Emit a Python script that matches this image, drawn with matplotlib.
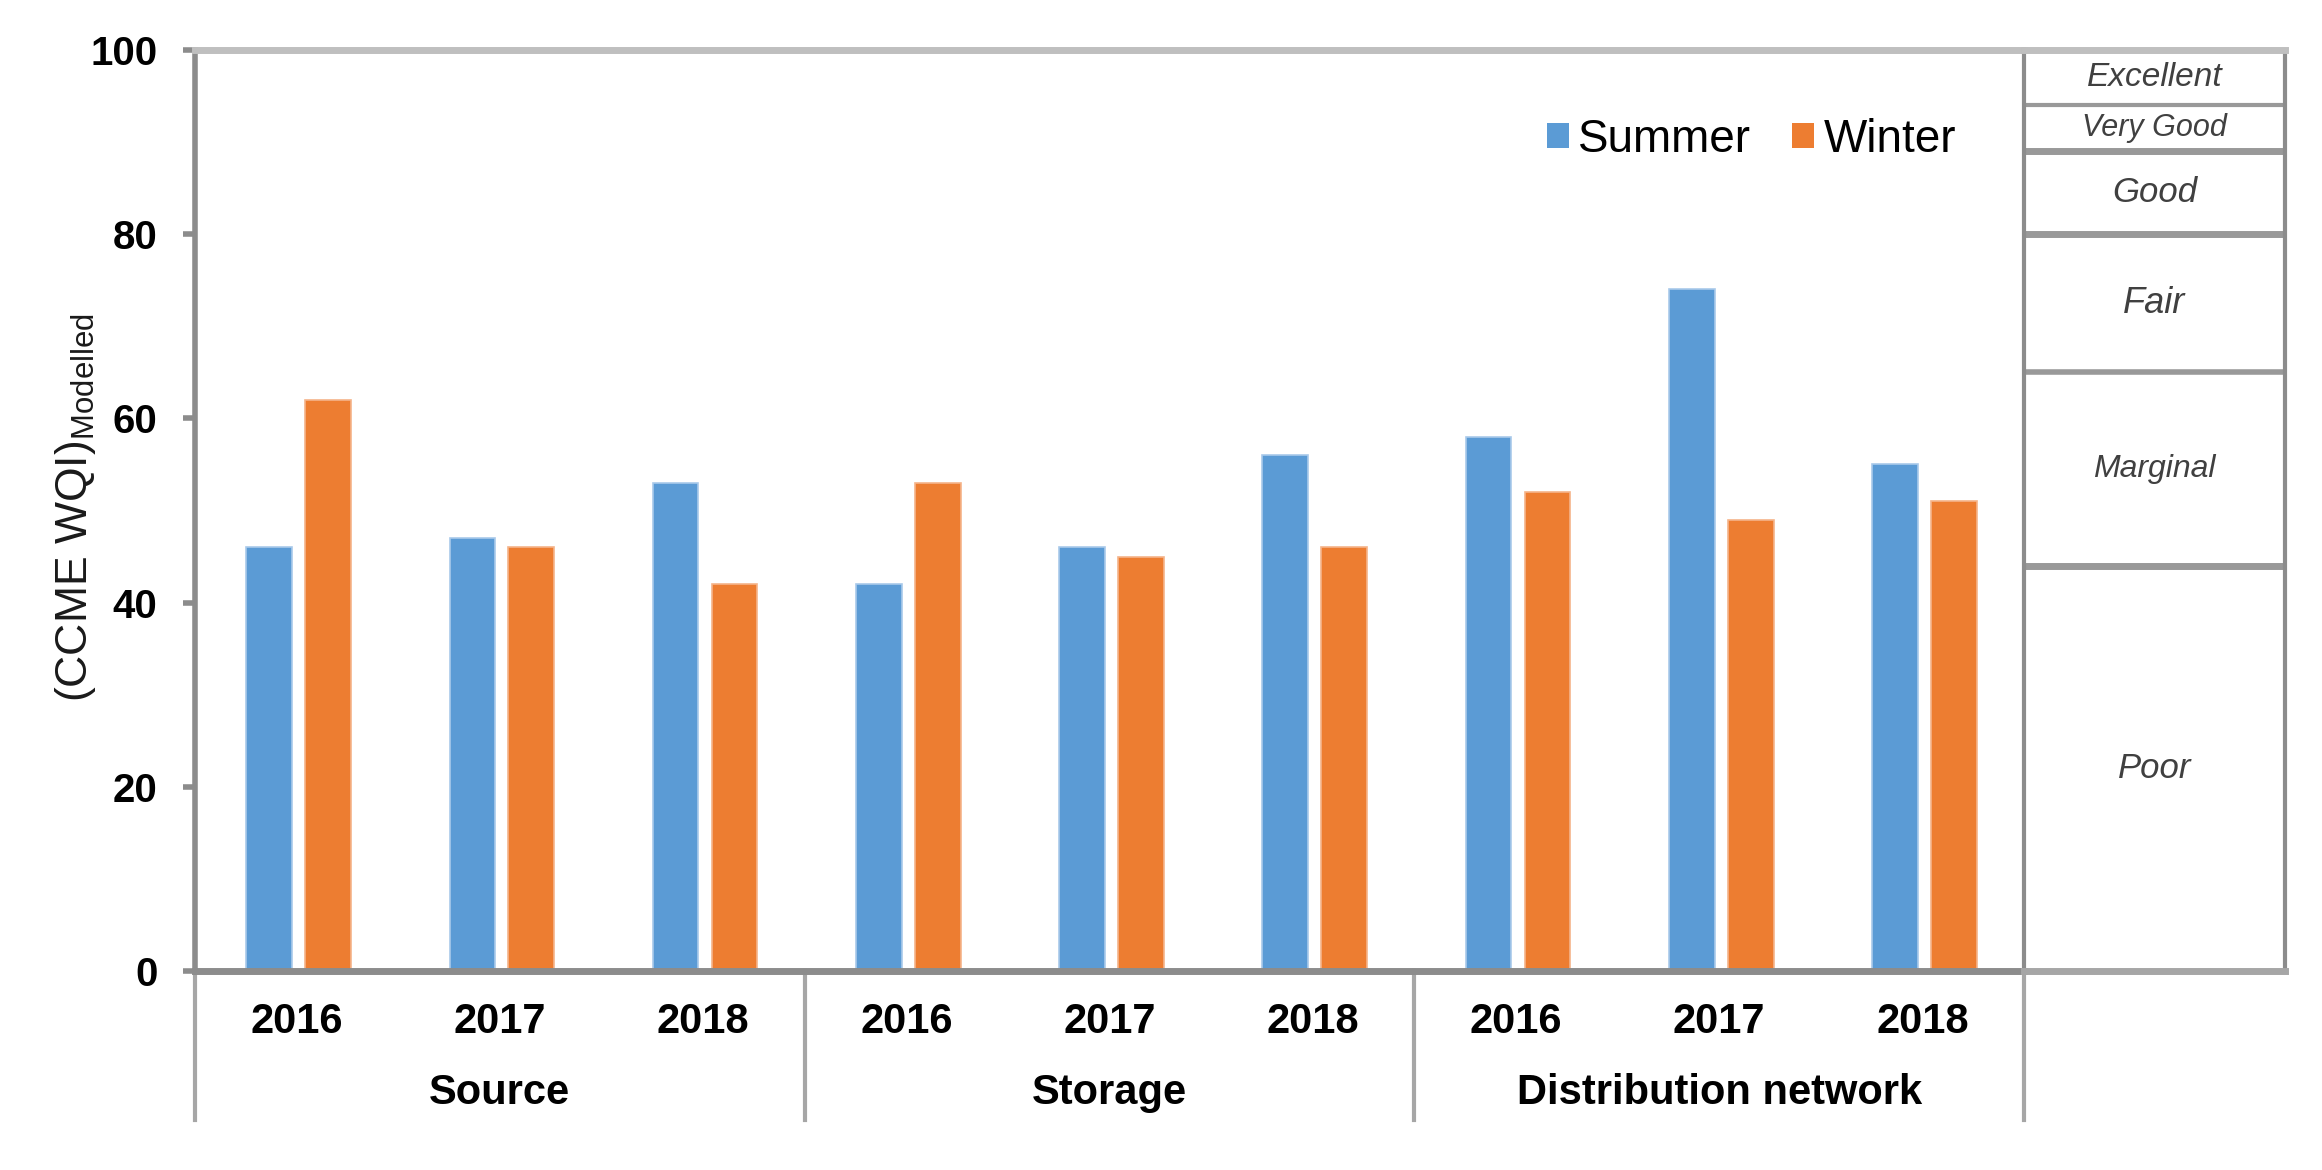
import matplotlib
matplotlib.use("Agg")
import matplotlib.pyplot as plt
from matplotlib import font_manager
from matplotlib.patches import Patch
from matplotlib.lines import Line2D
import numpy as np

# ---------------- data ----------------
groups = ["Source", "Storage", "Distribution network"]
years = ["2016", "2017", "2018"]
summer = [46, 47, 53, 42, 46, 56, 58, 74, 55]
winter = [62, 46, 42, 53, 45, 46, 52, 49, 51]
series_names = ["Summer", "Winter"]
band_names = ["Poor", "Marginal", "Fair", "Good", "Very Good", "Excellent"]
band_edges = [0, 44, 65, 80, 89, 94, 100]
yticks = [0, 20, 40, 60, 80, 100]

# ---------------- fonts ----------------
def have(fam):
    try:
        font_manager.findfont(font_manager.FontProperties(family=fam), fallback_to_default=False)
        return True
    except Exception:
        return False

narrow = "Liberation Sans Narrow" if have("Liberation Sans Narrow") else "Liberation Sans"
regular = "Liberation Sans"
plt.rcParams["font.family"] = [regular, "DejaVu Sans"]
plt.rcParams["mathtext.fontset"] = "custom"
plt.rcParams["mathtext.rm"] = regular
plt.rcParams["mathtext.it"] = regular + ":italic"

W, H = 2322, 1170
fig = plt.figure(figsize=(W / 100, H / 100), dpi=100)

L, R, T, B = 195, 2024, 50, 971
ax = fig.add_axes([L / W, 1 - B / H, (R - L) / W, (B - T) / H])

blue = "#5b9bd5"
orange = "#ed7d31"
grey = "#8c8c8c"
lightgrey = "#bfbfbf"

n = len(summer)
x = np.arange(n)
bw = 0.225
ax.bar(x - 0.135, summer, width=bw, color=blue, edgecolor="#a9c9ea", linewidth=1.2, zorder=2)
ax.bar(x + 0.155, winter, width=bw, color=orange, edgecolor="#f5b48a", linewidth=1.2, zorder=2)

ax.set_xlim(-0.5, n - 0.5)
ax.set_ylim(0, 100)

ax.spines["right"].set_visible(False)
ax.spines["top"].set_color(lightgrey)
ax.spines["top"].set_linewidth(5)
ax.spines["left"].set_color(grey)
ax.spines["left"].set_linewidth(4)
ax.spines["bottom"].set_color(grey)
ax.spines["bottom"].set_linewidth(5)

ax.set_yticks(yticks)
ax.set_yticklabels([str(v) for v in yticks], fontfamily=narrow, fontweight="bold", fontsize=29)
ax.tick_params(axis="y", length=9, width=4, color=grey, pad=18)

ax.set_xticks(x)
ax.set_xticklabels(years * len(groups), fontfamily=narrow, fontweight="bold", fontsize=30)
ax.tick_params(axis="x", length=0, pad=22)

# group labels and separators
axh = B - T
sep_bottom = -(1120 - B) / axh
for i in range(len(groups) + 1):
    xs = -0.5 + 3 * i
    ax.add_line(Line2D([xs, xs], [0, sep_bottom], transform=ax.get_xaxis_transform(),
                       color="#a6a6a6", linewidth=3, clip_on=False))
for i, g in enumerate(groups):
    ax.text(3 * i + 1, -(1104 - B) / axh, g, transform=ax.get_xaxis_transform(),
            ha="center", va="baseline", fontfamily=narrow, fontweight="bold", fontsize=30)

# y label
fig.text(76 / W, 1 - 508 / H, r"(CCME WQI)$_{\mathrm{Modelled}}$", rotation=90,
         ha="center", va="center", fontsize=32, color="#1a1a1a")

# legend
handles = [Patch(facecolor=blue, edgecolor="none"), Patch(facecolor=orange, edgecolor="none")]
fig.legend(handles, series_names, loc="center left", bbox_to_anchor=(1547 / W, 1 - 140 / H),
           bbox_transform=fig.transFigure, ncol=2, frameon=False, fontsize=33,
           handlelength=0.48, handleheight=0.48, handletextpad=0.2, columnspacing=0.9,
           borderpad=0, borderaxespad=0)

# rating table
TR = 2285
tax = fig.add_axes([R / W, 1 - B / H, (TR - R) / W, (B - T) / H])
tax.set_xlim(0, 1)
tax.set_ylim(0, 100)
tax.set_xticks([])
tax.set_yticks([])
tax.patch.set_alpha(0)
tax.spines["top"].set_color(lightgrey)
tax.spines["top"].set_linewidth(5)
tax.spines["bottom"].set_color("#a6a6a6")
tax.spines["bottom"].set_linewidth(5)
tax.spines["left"].set_color(grey)
tax.spines["left"].set_linewidth(3)
tax.spines["right"].set_color(grey)
tax.spines["right"].set_linewidth(3)
thick = {44: 5, 65: 4, 80: 5, 89: 5, 94: 3}
for e in band_edges[1:-1]:
    tax.axhline(e, color="#999999", linewidth=thick.get(e, 4))
sizes = {"Poor": 25, "Marginal": 23, "Fair": 26, "Good": 25, "Very Good": 22, "Excellent": 24}
for i, name in enumerate(band_names):
    yc = (band_edges[i] + band_edges[i + 1]) / 2
    tax.text(0.5, yc, name, ha="center", va="center", style="italic",
             fontfamily=narrow, fontsize=sizes[name], color="#404040")

fig.savefig("out.png", dpi=100)
